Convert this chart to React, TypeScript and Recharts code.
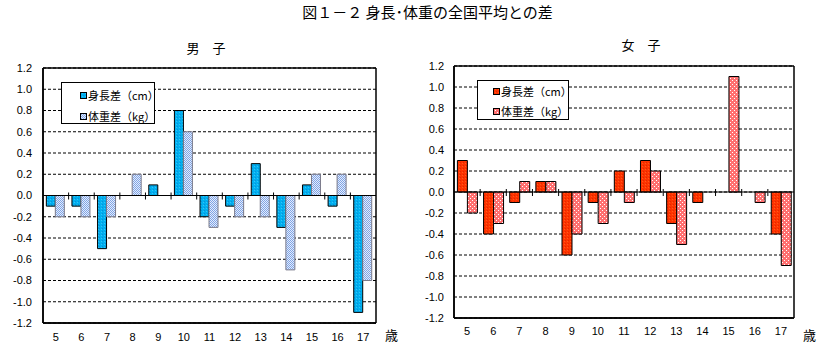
import React from 'react';
import { BarChart, Bar, XAxis, YAxis, CartesianGrid, ReferenceLine, Legend } from 'recharts';

const ages = ['5', '6', '7', '8', '9', '10', '11', '12', '13', '14', '15', '16', '17'];
const boysHeight = [-0.1, -0.1, -0.5, 0, 0.1, 0.8, -0.2, -0.1, 0.3, -0.3, 0.1, -0.1, -1.1];
const boysWeight = [-0.2, -0.2, -0.2, 0.2, 0, 0.6, -0.3, -0.2, -0.2, -0.7, 0.2, 0.2, -0.8];
const girlsHeight = [0.3, -0.4, -0.1, 0.1, -0.6, -0.1, 0.2, 0.3, -0.3, -0.1, 0, 0, -0.4];
const girlsWeight = [-0.2, -0.3, 0.1, 0.1, -0.4, -0.3, -0.1, 0.2, -0.5, 0, 1.1, -0.1, -0.7];
const yTicks = [-1.2, -1.0, -0.8, -0.6, -0.4, -0.2, 0, 0.2, 0.4, 0.6, 0.8, 1.0, 1.2];
const seriesNames = ['身長差（cm）', '体重差（kg）'];

const title = '図１－２ 身長･体重の全国平均との差';
const boysTitle = '男　子';
const girlsTitle = '女　子';
const unitLabel = '歳';

const boysData = ages.map((a, i) => ({ age: a, h: boysHeight[i], w: boysWeight[i] }));
const girlsData = ages.map((a, i) => ({ age: a, h: girlsHeight[i], w: girlsWeight[i] }));

const CJK = "'Noto Sans CJK JP', 'Noto Sans', sans-serif";
const NUM = "'Liberation Sans Narrow', 'Liberation Sans', Arial, sans-serif";

const Patterns = () => (
  <svg width={0} height={0} style={{ position: 'absolute' }}>
    <defs>
      <pattern id="boysH" width={3} height={3} patternUnits="userSpaceOnUse">
        <rect width={3} height={3} fill="#00B0F0" />
        <rect x={0} y={0} width={1} height={1} fill="#0C8FD6" />
        <rect x={2} y={1} width={1} height={1} fill="#33C4F8" />
      </pattern>
      <pattern id="boysW" width={2} height={2} patternUnits="userSpaceOnUse">
        <rect width={2} height={2} fill="#E4ECFB" />
        <rect x={0} y={0} width={1} height={1} fill="#7FA4E6" />
        <rect x={1} y={1} width={1} height={1} fill="#7FA4E6" />
      </pattern>
      <pattern id="girlsH" width={3} height={3} patternUnits="userSpaceOnUse">
        <rect width={3} height={3} fill="#FF3300" />
        <rect x={0} y={0} width={1} height={1} fill="#E02800" />
        <rect x={2} y={1} width={1} height={1} fill="#FF5A1A" />
      </pattern>
      <pattern id="girlsW" width={4} height={4} patternUnits="userSpaceOnUse">
        <rect width={4} height={4} fill="#FF7070" />
        <rect x={0} y={0} width={1} height={1} fill="#FFFFFF" />
        <rect x={2} y={2} width={1} height={1} fill="#FFFFFF" />
      </pattern>
    </defs>
  </svg>
);

const makeLegend = (markerLeft: number, firstY: number, gapY: number, fills: string[]) => (props: any) => {
  const payload = props.payload || [];
  return (
    <div style={{ position: 'relative', width: '100%', height: '100%', boxSizing: 'border-box', border: '1px solid #000', background: '#fff' }}>
      {payload.map((entry: any, i: number) => (
        <div key={i} style={{ position: 'absolute', left: markerLeft, top: firstY + i * gapY - 8, height: 16, display: 'flex', alignItems: 'center', fontFamily: CJK, fontSize: 11, color: '#000', whiteSpace: 'nowrap', lineHeight: '16px' }}>
          <svg width={7} height={7} style={{ marginRight: 1 }}>
            <rect x={0.5} y={0.5} width={6} height={6} fill={fills[i]} stroke="#000" strokeWidth={1} />
          </svg>
          <span>{entry.value}</span>
        </div>
      ))}
    </div>
  );
};

const fmt = (v: number) => v.toFixed(1);

const CATEGORY_COUNT = ages.length;

// zero axis line with cross tick marks at category boundaries
const ZeroAxis = (props: any) => {
  const { x1, x2, y1 } = props;
  if (x1 == null || x2 == null || y1 == null) return <g />;
  const step = (x2 - x1) / CATEGORY_COUNT;
  const marks = [];
  for (let i = 1; i < CATEGORY_COUNT; i++) {
    const x = x1 + step * i;
    marks.push(<line key={i} x1={x} x2={x} y1={y1 - 3} y2={y1 + 4} stroke="#000" strokeWidth={1} />);
  }
  return (
    <g>
      <line x1={x1} x2={x2} y1={y1} y2={y1} stroke="#000" strokeWidth={1.2} />
      {marks}
    </g>
  );
};

const frameLine = { stroke: '#000', strokeWidth: 1.5 };
const frameV = (args: any) => (args && args.offset ? [args.offset.left, args.offset.left + args.offset.width] : []);
const frameH = (args: any) => (args && args.offset ? [args.offset.top, args.offset.top + args.offset.height] : []);

type PanelProps = {
  data: any[];
  left: number;
  width: number;
  marginTop: number;
  marginRight: number;
  axisWidth: number;
  xAxisHeight: number;
  marginBottom: number;
  tickMarginX: number;
  tickMarginY: number;
  fills: string[];
  strokes: string[];
  legendStyle: any;
  legendContent: any;
};

const Panel = (p: PanelProps) => (
  <div style={{ position: 'absolute', left: p.left, top: 0 }}>
    <BarChart
      width={p.width}
      height={362}
      data={p.data}
      margin={{ top: p.marginTop, right: p.marginRight, left: 0, bottom: p.marginBottom }}
      barCategoryGap="13%"
      barGap={0}
    >
      <CartesianGrid vertical={false} stroke="#000" strokeDasharray="3 2" strokeWidth={1} />
      <CartesianGrid
        stroke="#000"
        strokeWidth={1.5}
        verticalCoordinatesGenerator={frameV}
        horizontalCoordinatesGenerator={frameH}
      />
      <XAxis
        dataKey="age"
        axisLine={frameLine}
        tickLine={false}
        tickSize={0}
        tickMargin={p.tickMarginX}
        interval={0}
        height={p.xAxisHeight}
        tick={{ fill: '#000', fontSize: 11, fontFamily: NUM }}
        label={{ value: unitLabel, position: 'right', offset: 9, fill: '#000', fontSize: 13, fontFamily: CJK }}
      />
      <XAxis xAxisId="top" orientation="top" dataKey="age" height={0} tick={false} tickLine={false} axisLine={frameLine} />
      <YAxis
        domain={[-1.2, 1.2]}
        ticks={yTicks}
        interval={0}
        axisLine={frameLine}
        tickLine={false}
        tickSize={0}
        tickMargin={p.tickMarginY}
        width={p.axisWidth}
        allowDataOverflow
        tickFormatter={fmt}
        tick={{ fill: '#000', fontSize: 11, fontFamily: NUM }}
      />
      <YAxis yAxisId="right" orientation="right" domain={[-1.2, 1.2]} allowDataOverflow width={0} tick={false} tickLine={false} axisLine={frameLine} />
      <Legend
        layout="vertical"
        align="center"
        verticalAlign="middle"
        itemSorter="dataKey"
        wrapperStyle={p.legendStyle}
        content={p.legendContent}
      />
      <Bar dataKey="h" name={seriesNames[0]} fill={p.fills[0]} stroke={p.strokes[0]} strokeWidth={1} isAnimationActive={false} />
      <Bar dataKey="w" name={seriesNames[1]} fill={p.fills[1]} stroke={p.strokes[1]} strokeWidth={1} isAnimationActive={false} />
      <ReferenceLine y={0} stroke="#000" shape={ZeroAxis} ifOverflow="visible" />
    </BarChart>
  </div>
);

export default function App() {
  const boysFills = ['url(#boysH)', 'url(#boysW)'];
  const girlsFills = ['url(#girlsH)', 'url(#girlsW)'];
  return (
    <div style={{ position: 'absolute', left: 0, top: 0, width: 825, height: 362, background: '#fff', overflow: 'hidden' }}>
      <Patterns />
      <div style={{ position: 'absolute', left: 0, width: 825, top: 4, textAlign: 'center', paddingLeft: 30, boxSizing: 'border-box', fontFamily: CJK, fontSize: 15, lineHeight: '16px', color: '#000', whiteSpace: 'nowrap' }}>{title}</div>
      <div style={{ position: 'absolute', left: 156, width: 100, top: 40, textAlign: 'center', fontFamily: CJK, fontSize: 13, lineHeight: '15px', color: '#000' }}>{boysTitle}</div>
      <div style={{ position: 'absolute', left: 591, width: 100, top: 37, textAlign: 'center', fontFamily: CJK, fontSize: 13, lineHeight: '15px', color: '#000' }}>{girlsTitle}</div>
      <Panel
        data={boysData}
        left={0}
        width={412}
        marginTop={68}
        marginRight={36}
        axisWidth={43}
        xAxisHeight={24}
        marginBottom={15}
        tickMarginX={10}
        tickMarginY={11}
        fills={boysFills}
        strokes={['#000', '#7A7A8A']}
        legendStyle={{ left: 61, top: 82, width: 94, height: 42 }}
        legendContent={makeLegend(18, 12, 21, boysFills)}
      />
      <Panel
        data={girlsData}
        left={412}
        width={413}
        marginTop={66}
        marginRight={31}
        axisWidth={42}
        xAxisHeight={34}
        marginBottom={10}
        tickMarginX={9}
        tickMarginY={10}
        fills={girlsFills}
        strokes={['#000', '#000']}
        legendStyle={{ left: 65, top: 80, width: 92, height: 40 }}
        legendContent={makeLegend(15, 10, 20, girlsFills)}
      />
    </div>
  );
}
